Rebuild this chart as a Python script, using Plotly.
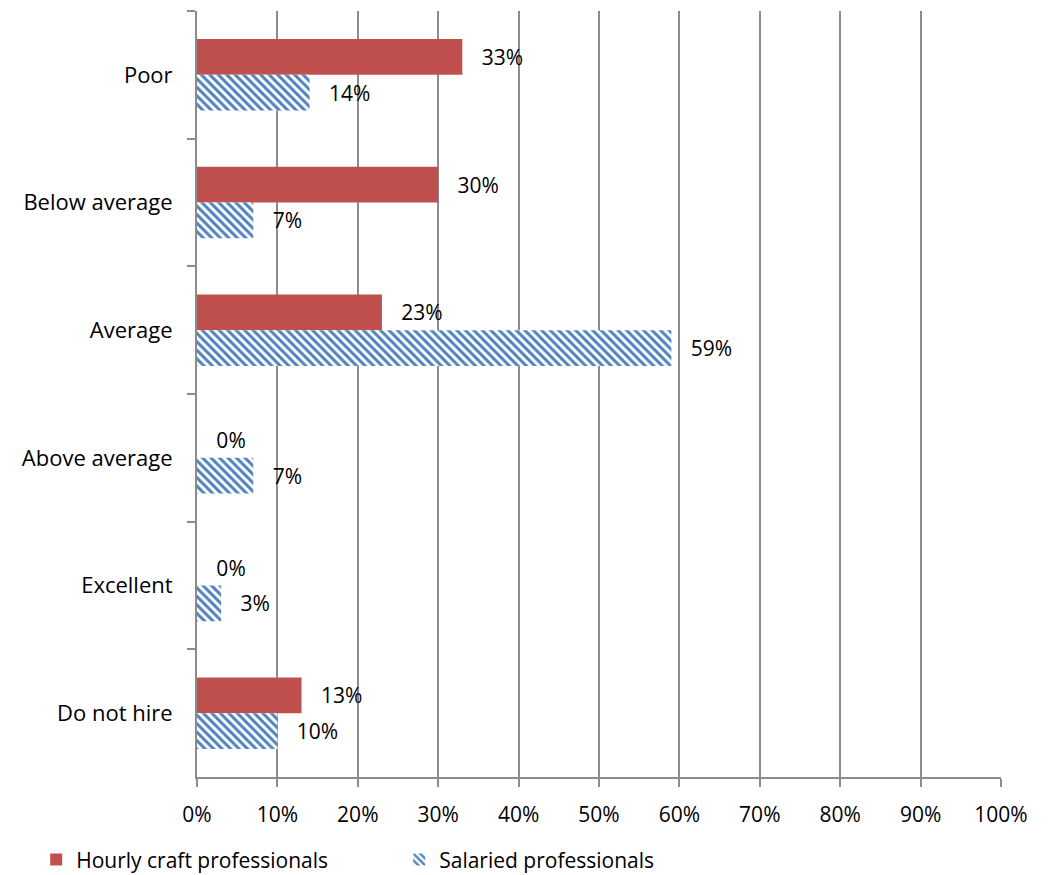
import plotly.graph_objects as go

categories = ["Poor", "Below average", "Average", "Above average", "Excellent", "Do not hire"]
hourly = [33, 30, 23, 0, 0, 13]
salaried = [14, 7, 59, 7, 3, 10]
x_ticks = list(range(0, 101, 10))
x_tick_labels = [f"{v}%" for v in x_ticks]

RED = "#C0504D"
BLUE = "#4F81BD"
GRID = "#8C8C8C"
FONT = "Open Sans"
FS = 22

fig = go.Figure()
fig.add_trace(go.Bar(
    name="Hourly craft professionals",
    y=categories, x=hourly, orientation="h",
    marker=dict(color=RED, line=dict(width=0)),
    text=hourly, texttemplate="\u00a0\u00a0\u00a0%{text}%", textposition="outside",
    textfont=dict(family=FONT, size=21, color="black"),
    cliponaxis=False,
))
fig.add_trace(go.Bar(
    name="Salaried professionals",
    y=categories, x=salaried, orientation="h",
    marker=dict(color="white", line=dict(width=0),
                pattern=dict(shape="\\", fgcolor=BLUE, bgcolor="white",
                             size=6, solidity=0.5, fgopacity=1)),
    text=salaried, texttemplate="\u00a0\u00a0\u00a0%{text}%", textposition="outside",
    textfont=dict(family=FONT, size=21, color="black"),
    cliponaxis=False,
))

fig.update_layout(
    width=1051, height=875,
    margin=dict(l=197, r=50, t=11, b=98, autoexpand=False),
    paper_bgcolor="white", plot_bgcolor="white",
    barmode="group", bargap=0.44, bargroupgap=0,
    font=dict(family=FONT, size=FS, color="black"),
    showlegend=True,
    legend=dict(orientation="h", x=-0.2, xanchor="left", y=-0.108, yanchor="middle",
                entrywidth=318, entrywidthmode="pixels",
                font=dict(family=FONT, size=21, color="black"),
                itemwidth=30, tracegroupgap=0),
)
fig.update_xaxes(
    range=[0, 100], tickmode="array", tickvals=x_ticks, ticktext=x_tick_labels,
    showgrid=True, gridcolor=GRID, gridwidth=2,
    showline=True, linecolor=GRID, linewidth=2,
    ticks="outside", ticklen=8, tickwidth=2, tickcolor=GRID,
    ticklabelstandoff=10, zeroline=False,
    tickfont=dict(family=FONT, size=21, color="black"),
)
fig.update_yaxes(
    autorange="reversed", type="category",
    showline=True, linecolor=GRID, linewidth=2,
    ticks="outside", ticklen=8, tickwidth=2, tickcolor=GRID,
    tickson="boundaries", ticklabelstandoff=18, showgrid=False,
    tickfont=dict(family=FONT, size=FS, color="black"),
)

fig.write_html("out.html")
